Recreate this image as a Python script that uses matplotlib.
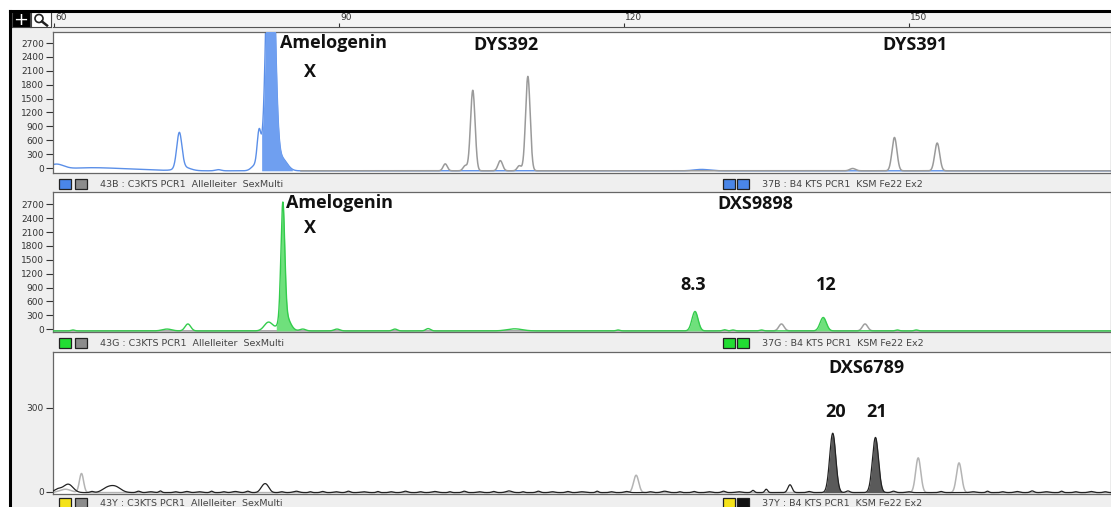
import numpy as np
import matplotlib.pyplot as plt
from matplotlib.lines import Line2D
from matplotlib.patches import Rectangle, Ellipse

# ---- peak tables: (size in bp, height in RFU above baseline, sigma in bp)
BP_RANGE = (59.9, 171.3)

BLUE_PEAKS = [(60.2, 120, 0.8), (63.5, 60, 2.5), (68.0, 30, 2.5), (77.3, 25, 0.3),
              (73.2, 760, 0.27), (73.6, 80, 0.7), (81.2, 120, 0.4), (81.6, 760, 0.2),
              (82.8, 7000, 0.4), (84.0, 260, 0.55), (128.2, 30, 0.8)]
BLUE_CALLED = [(81.85, 85.1)]
GREY_TOP_PEAKS = [(101.2, 150, 0.22), (103.3, 110, 0.22), (104.1, 1740, 0.24), (107.0, 220, 0.24),
                  (109.0, 110, 0.22), (109.9, 2040, 0.24), (144.1, 50, 0.3),
                  (148.5, 720, 0.26), (153.0, 600, 0.26)]

GREEN_PEAKS = [(62.0, 20, 0.2), (71.9, 40, 0.5), (74.1, 150, 0.3), (82.6, 190, 0.45),
               (84.1, 2450, 0.2), (84.3, 360, 0.5), (86.2, 40, 0.3), (89.8, 40, 0.3),
               (95.9, 40, 0.25), (99.4, 50, 0.25), (108.5, 45, 0.8), (119.4, 20, 0.2),
               (127.5, 420, 0.32), (130.6, 25, 0.2), (131.5, 20, 0.2), (134.5, 20, 0.2),
               (141.0, 290, 0.33), (148.8, 20, 0.2), (150.8, 20, 0.2)]
GREEN_CALLED = [(83.4, 85.4), (126.4, 128.6), (139.9, 142.1)]
GREY_MID_PEAKS = [(136.6, 150, 0.28), (145.4, 150, 0.28)]

BLACK_PEAKS = [(60.4, 12, 0.4), (61.5, 30, 0.5), (65.5, 12, 0.5), (66.4, 22, 0.6),
               (82.0, 18, 0.3), (82.4, 22, 0.3), (135.0, 12, 0.15), (137.5, 28, 0.22),
               (142.0, 212, 0.32), (146.5, 197, 0.32)]
BLACK_NOISE = [(64.0, 4, 0.2), (68.9, 5, 0.2), (70.2, 3, 0.3), (71.2, 6, 0.15), (72.8, 3, 0.2),
               (74.0, 4, 0.25), (75.3, 3, 0.3), (76.6, 5, 0.15), (77.9, 3, 0.2), (79.1, 4, 0.3),
               (80.4, 5, 0.2), (84.0, 3, 0.2), (85.5, 5, 0.3), (87.0, 3, 0.15), (88.3, 4, 0.2),
               (89.7, 3, 0.25), (91.0, 5, 0.2), (92.6, 3, 0.3), (94.1, 4, 0.15), (95.5, 3, 0.2),
               (97.0, 5, 0.25), (98.6, 3, 0.2), (100.1, 4, 0.3), (101.7, 3, 0.15), (103.2, 5, 0.2),
               (104.8, 3, 0.25), (106.3, 4, 0.2), (107.9, 6, 0.3), (109.4, 3, 0.15), (111.0, 5, 0.2),
               (112.5, 3, 0.25), (114.1, 4, 0.2), (115.6, 3, 0.3), (117.2, 5, 0.15), (118.7, 3, 0.2),
               (120.3, 4, 0.25), (122.8, 3, 0.2), (124.3, 5, 0.3), (125.9, 3, 0.15), (127.4, 4, 0.2),
               (129.0, 3, 0.25), (130.5, 5, 0.2), (132.1, 3, 0.3), (133.6, 8, 0.15), (139.5, 4, 0.2),
               (143.6, 6, 0.2), (148.4, 5, 0.2), (150.0, 3, 0.25), (153.4, 4, 0.2), (156.8, 3, 0.3),
               (158.3, 5, 0.15), (159.9, 3, 0.2), (161.4, 4, 0.25), (163.0, 6, 0.2), (164.5, 3, 0.3),
               (166.1, 5, 0.15), (167.6, 3, 0.2), (169.2, 4, 0.25), (170.7, 3, 0.2)]
BLACK_CALLED = [(141.0, 143.0), (145.5, 147.5)]
GREY_LOW_PEAKS = [(61.2, 12, 0.6), (62.9, 68, 0.22), (121.3, 62, 0.27),
                  (151.0, 124, 0.27), (155.3, 106, 0.27)]

# ---- annotations: (text, bp, rfu, horizontal alignment)
TOP_LABELS = [("Amelogenin", 83.8, 2700, "left"), ("X", 86.95, 2073, "center"),
              ("DYS392", 107.6, 2657, "center"), ("DYS391", 150.7, 2657, "center")]
MID_LABELS = [("Amelogenin", 84.4, 2730, "left"), ("X", 86.95, 2188, "center"),
              ("DXS9898", 133.9, 2708, "center"), ("8.3", 127.3, 957, "center"),
              ("12", 141.3, 957, "center")]
LOW_LABELS = [("DXS6789", 145.6, 442, "center"), ("20", 142.3, 285, "center"),
              ("21", 146.6, 285, "center")]

RULER_TICKS = [60, 90, 120, 150]
SAMPLE_LEFT = ["43B : C3KTS PCR1  Allelleiter  SexMulti",
               "43G : C3KTS PCR1  Allelleiter  SexMulti",
               "43Y : C3KTS PCR1  Allelleiter  SexMulti"]
SAMPLE_RIGHT = ["37B : B4 KTS PCR1  KSM Fe22 Ex2",
                "37G : B4 KTS PCR1  KSM Fe22 Ex2",
                "37Y : B4 KTS PCR1  KSM Fe22 Ex2"]

W, H = 1111, 507
bp = np.linspace(BP_RANGE[0], BP_RANGE[1], 6000)


def trace(peaks, base=0.0):
    y = np.full_like(bp, base)
    for c, h, s in peaks:
        y += h * np.exp(-0.5 * ((bp - c) / s) ** 2)
    return y


fig = plt.figure(figsize=(W / 100, H / 100), dpi=100)
fig.patch.set_facecolor("white")


def box(x0, y0, x1, y1):
    return fig.add_axes([x0 / W, 1 - y1 / H, (x1 - x0) / W, (y1 - y0) / H])


def ftext(x, y, s, **kw):
    fig.text(x / W, 1 - y / H, s, **kw)


# window background and frame
fig.add_artist(Rectangle((10 / W, 0), 1 - 10 / W, 1 - 11 / H, transform=fig.transFigure,
                         facecolor="#efefef", edgecolor="none", zorder=-5))
fig.add_artist(Line2D([10 / W, 10 / W], [0, 1 - 11 / H], color="black", lw=2.2, zorder=20))
fig.add_artist(Line2D([10 / W, 1], [1 - 11 / H, 1 - 11 / H], color="black", lw=2.2, zorder=20))

# toolbar icons
ic = box(12, 12, 30, 27)
ic.set_facecolor("black")
ic.set_xticks([]); ic.set_yticks([])
ic.text(0.5, 0.45, "+", color="white", ha="center", va="center", fontsize=13,
        transform=ic.transAxes)
mg = box(31, 12, 51, 27)
mg.set_xlim(0, 20); mg.set_ylim(15, 0)
mg.set_xticks([]); mg.set_yticks([])
mg.add_patch(Ellipse((8, 6.5), 8, 8, fill=False, lw=1.2, color="#222"))
mg.plot([11, 16], [9.5, 13.5], color="#222", lw=1.8)
for s in list(ic.spines.values()) + list(mg.spines.values()):
    s.set_color("#444")

# size ruler
ru = box(53, 12, 1111, 27)
ru.set_facecolor("#f4f4f4")
ru.set_xlim(*BP_RANGE); ru.set_ylim(0, 1)
ru.set_yticks([])
ru.set_xticks(RULER_TICKS)
ru.tick_params(axis="x", direction="in", length=3, labelbottom=False, color="#333")
for t in RULER_TICKS:
    ru.text(t + 0.15, 0.62, str(t), fontsize=6.5, color="#333", ha="left", va="center")
for side in ("top", "left", "right"):
    ru.spines[side].set_visible(False)
ru.spines["bottom"].set_color("#555")


def panel(y0, y1, ylim, yticks):
    ax = box(53, y0, 1111, y1)
    ax.set_facecolor("white")
    ax.set_xlim(*BP_RANGE)
    ax.set_ylim(*ylim)
    ax.set_xticks([])
    ax.set_yticks(yticks)
    ax.tick_params(axis="y", direction="out", length=5, width=0.8, pad=1.5,
                   labelsize=6.5, labelcolor="#333", color="#333")
    for s in ax.spines.values():
        s.set_color("#666")
        s.set_linewidth(0.9)
    return ax


def called(ax, y, base, ranges, fill):
    for lo, hi in ranges:
        m = (bp >= lo) & (bp <= hi)
        ax.fill_between(bp[m], base, y[m], color=fill, lw=0, zorder=3)


def labels(ax, items):
    for s, x, y, ha in items:
        ax.text(x, y, s, ha=ha, va="center", fontsize=13, fontweight="bold",
                family=["Open Sans", "DejaVu Sans"], color="#111", zorder=6)


# panel 1: blue dye
ax1 = panel(31.5, 172.7, (-101, 2950), np.arange(0, 2701, 300))
grey1 = trace(GREY_TOP_PEAKS, -60)
grey1[bp < 86] = np.nan
blue = trace(BLUE_PEAKS, -60)
ax1.plot(bp, blue, color="#5b8fe8", lw=1.0, zorder=2)
called(ax1, blue, -60, BLUE_CALLED, "#6f9ff0")
ax1.plot(bp, grey1, color="#9a9a9a", lw=1.1, zorder=4)
labels(ax1, TOP_LABELS)

# panel 2: green dye
ax2 = panel(191.7, 331.7, (-52, 2970), np.arange(0, 2701, 300))
green = trace(GREEN_PEAKS, -35)
grey2 = trace(GREY_MID_PEAKS, -35)
ax2.plot(bp, grey2, color="#a0a0a0", lw=1.1, zorder=2)
called(ax2, green, -35, GREEN_CALLED, "#6fe07c")
ax2.plot(bp, green, color="#33cc4c", lw=1.0, zorder=4)
labels(ax2, MID_LABELS)

# panel 3: yellow dye (drawn black)
ax3 = panel(352, 494, (-8, 499), [0, 300])
black = trace(BLACK_PEAKS + BLACK_NOISE, -3)
grey3 = trace(GREY_LOW_PEAKS, -3)
ax3.plot(bp, grey3, color="#b4b4b4", lw=1.1, zorder=2)
called(ax3, black, -3, BLACK_CALLED, "#5a5a5a")
ax3.plot(bp, black, color="#222222", lw=0.9, zorder=4)
labels(ax3, LOW_LABELS)

# sample status bars
bars = [(184, ("#4a86e8", "#8c8c8c"), ("#4a86e8", "#4a86e8")),
        (343, ("#22dd33", "#8c8c8c"), ("#22dd33", "#22dd33")),
        (503, ("#f4e21a", "#8c8c8c"), ("#f4e21a", "#111111"))]
for i, (yc, left_cols, right_cols) in enumerate(bars):
    for x, c in zip((59, 75), left_cols):
        fig.add_artist(Rectangle((x / W, 1 - (yc + 5) / H), 12 / W, 10 / H,
                                 transform=fig.transFigure, facecolor=c,
                                 edgecolor="#222", lw=0.9, zorder=5))
    for x, c in zip((723, 737), right_cols):
        fig.add_artist(Rectangle((x / W, 1 - (yc + 5) / H), 12 / W, 10 / H,
                                 transform=fig.transFigure, facecolor=c,
                                 edgecolor="#222", lw=0.9, zorder=5))
    ftext(100, yc, SAMPLE_LEFT[i], fontsize=6.8, color="#444", va="center")
    ftext(762, yc, SAMPLE_RIGHT[i], fontsize=6.8, color="#444", va="center")

fig.savefig("out.png", dpi=100)
